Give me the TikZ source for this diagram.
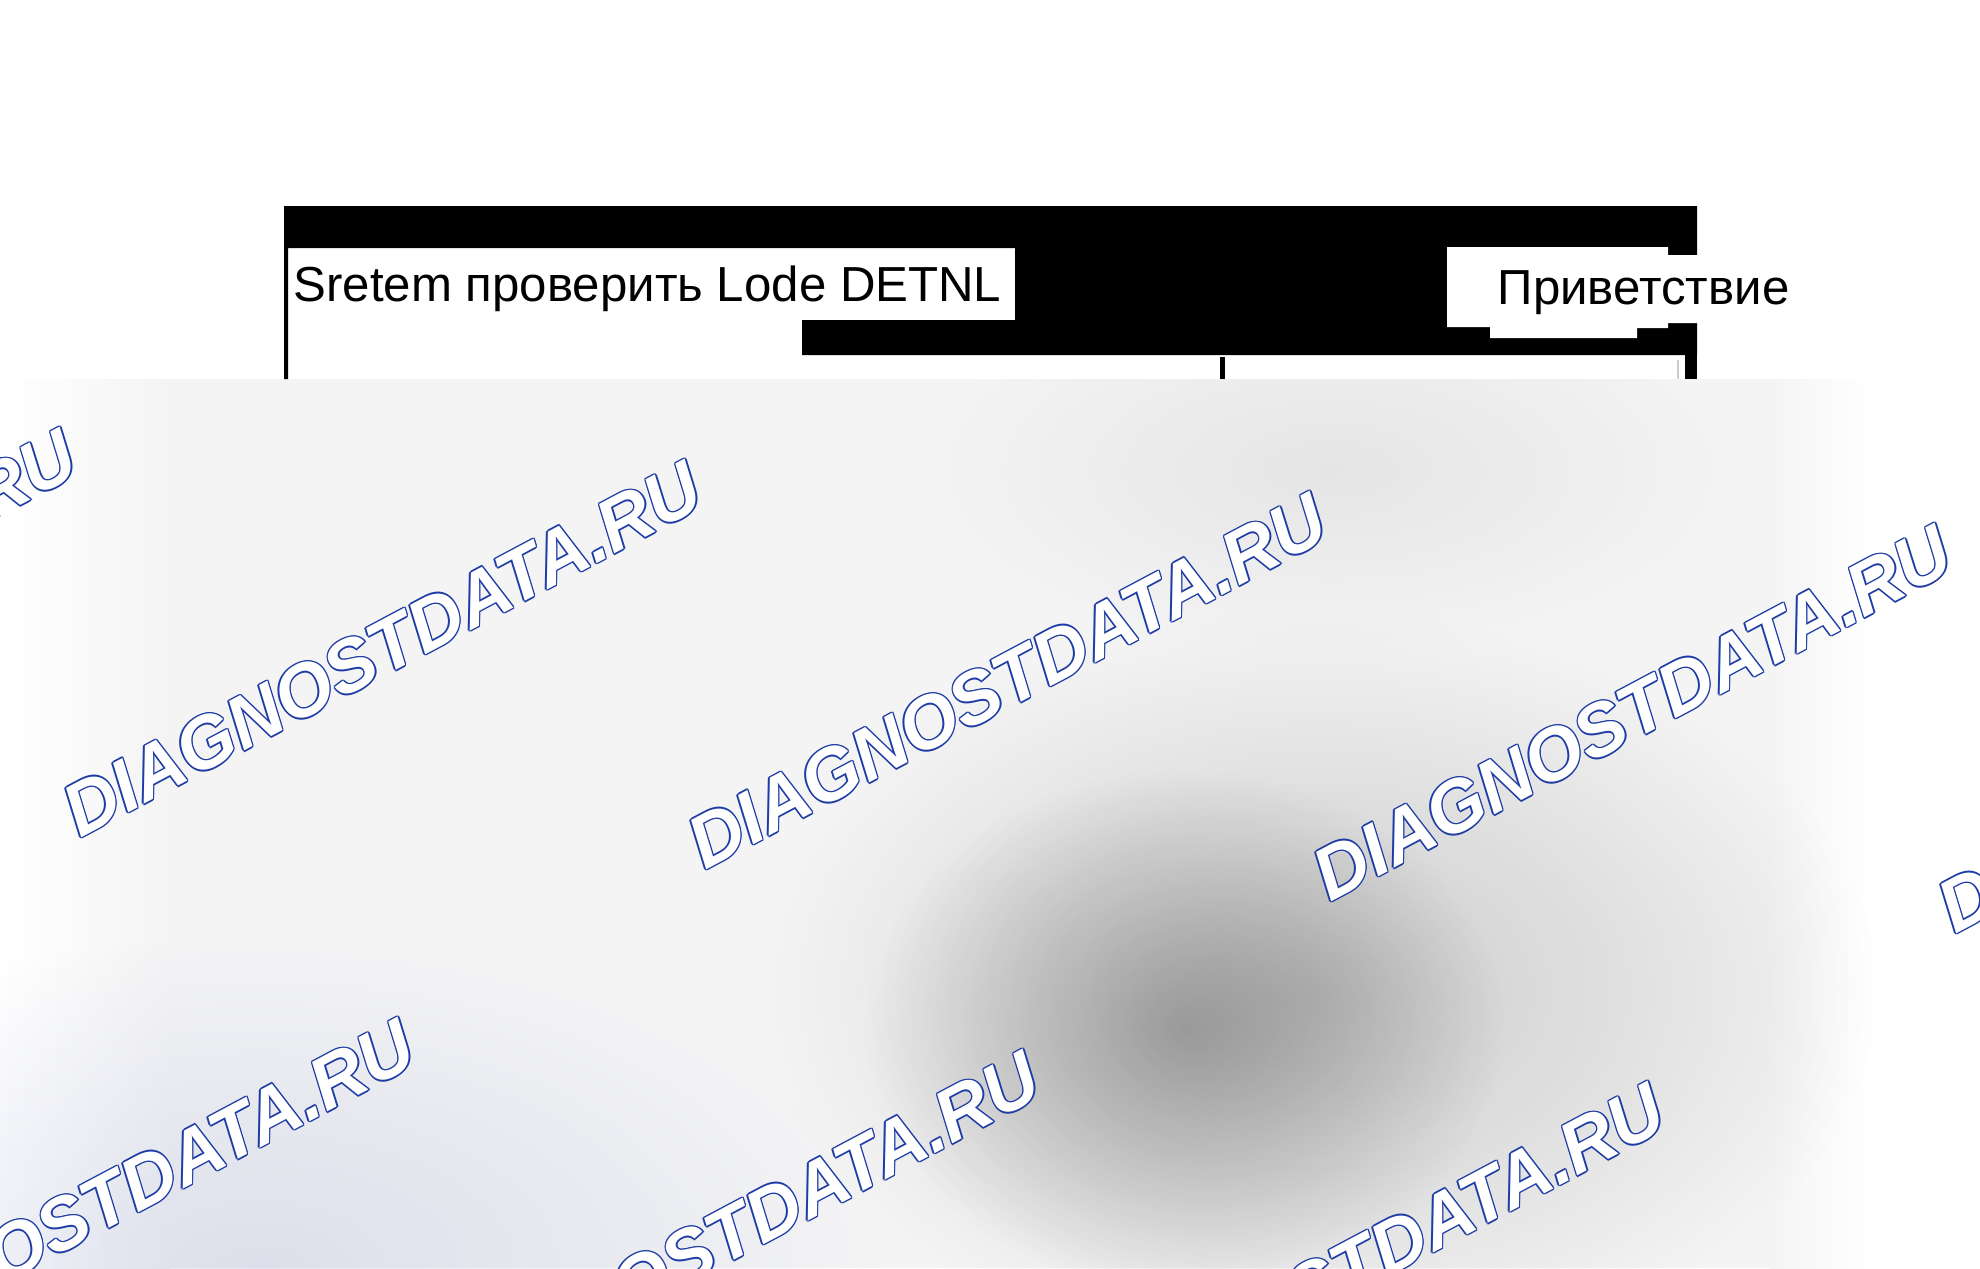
\documentclass[tikz,border=0pt]{standalone}
\usepackage{fontspec}
\setmainfont{Liberation Sans}
\usetikzlibrary{positioning, fadings}

\definecolor{wmblue}{RGB}{30,60,165}
\definecolor{haze}{RGB}{244,244,245}
\definecolor{bluehaze}{RGB}{150,160,205}

\tikzfading[name=softblob, inner color=transparent!0, outer color=transparent!100]

\begin{document}
\begin{tikzpicture}[x=0.1mm, y=-0.1mm,
    caption/.style={font=\fontsize{14pt}{16pt}\selectfont, inner sep=0pt, anchor=base west},
    wmark/.style={font=\fontsize{21pt}{24pt}\selectfont\bfseries\itshape, rotate=28, inner sep=0pt}]
    \path[use as bounding box, clip] (0,0) rectangle (1980,1268);
    \fill[white] (0,0) rectangle (1980,1268);

    % Blurred lower part of the screen
    \begin{scope}
        \clip (0,379) rectangle (1980,1268);
        \fill[haze] (0,379) rectangle (1980,1268);
        \shade[left color=white, right color=haze] (0,379) rectangle (170,1268);
        \shade[left color=haze, right color=white] (1770,379) rectangle (1870,1268);
        \fill[white] (1870,379) rectangle (1980,1268);
        \fill[bluehaze, opacity=0.25, path fading=softblob] (260,1268) ellipse (620 and 330);
        \fill[black, opacity=0.06, path fading=softblob] (1330,470) ellipse (420 and 190);
        \fill[black, opacity=0.17, path fading=softblob] (1320,990) ellipse (560 and 380);
        \fill[black, opacity=0.28, path fading=softblob] (1185,1030) ellipse (320 and 260);
    \end{scope}

    % Watermarks (blue outline, white inside)
    \foreach \cx/\cy [count=\i] in {-243/617, 382/649, 1007/681, 1632/713, 2257/745,
                                   95/1207, 720/1239, 1345/1271} {
        \foreach \ox/\oy [count=\j] in {1.5/0, -1.5/0, 0/1.5, 0/-1.5, 1/1, -1/1, 1/-1, -1/-1}
            \node[wmark, text=wmblue] (wm\i-\j) at (\cx+\ox, \cy+\oy) {DIAGNOSTDATA.RU};
        \node[wmark, text=white] (wm\i) at (\cx, \cy) {DIAGNOSTDATA.RU};
    }

    % Black header bar with its left frame line
    \fill[black] (284,206) -| (1697,355) -| (802,320) -| (1015,248) -| (288,379) -| cycle;

    % White box of the greeting
    \fill[white] (1447,247) -- (1668,247) -- (1668,255) -- (1760,255) -- (1760,323)
        -- (1668,323) -- (1668,328) -- (1637,328) -- (1637,338) -- (1490,338)
        -- (1490,327) -- (1447,327) -- cycle;

    % Lines under the bar
    \draw[line width=0.5mm] (1222,357) -- (1222,379);
    \fill[black] (1685,355) rectangle (1697,379);
    \draw[gray!40, line width=0.2mm] (1678,360) -- (1678,379);

    % Texts
    \node[caption] (lode) at (293,301) {Sretem проверить Lode DETNL};
    \node[caption] (greet) at (1497,304) {Приветствие};
\end{tikzpicture}
\end{document}
